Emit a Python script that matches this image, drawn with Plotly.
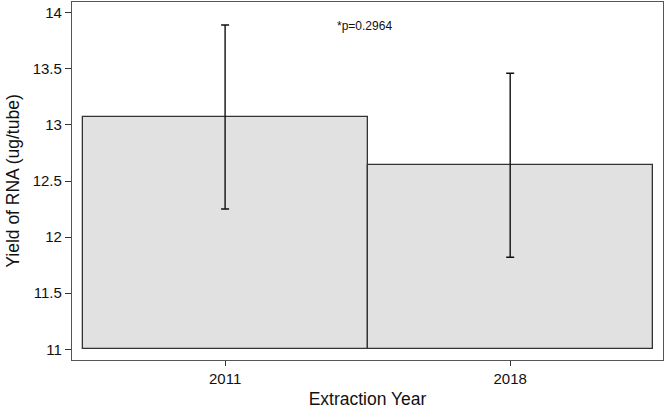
import plotly.graph_objects as go

years = ["2011", "2018"]
yield_means = [13.07, 12.64]
yield_err = [0.82, 0.82]
bar_base = 11
p_label = "*p=0.2964"

FONT = "Liberation Sans, Arial, Helvetica, sans-serif"

fig = go.Figure()
fig.add_trace(go.Bar(
    x=years,
    y=[v - bar_base for v in yield_means],
    base=bar_base,
    width=1,
    marker=dict(color="#e1e1e1", line=dict(color="#333333", width=1.3)),
    hoverinfo="skip",
    showlegend=False,
))
fig.add_trace(go.Scatter(
    x=years,
    y=yield_means,
    mode="markers",
    marker=dict(size=1, opacity=0),
    error_y=dict(type="data", array=yield_err, visible=True,
                 color="#111111", thickness=1.4, width=4),
    hoverinfo="skip",
    showlegend=False,
))
fig.add_annotation(
    x=0.489, y=13.885, xref="x", yref="y",
    text=p_label, showarrow=False,
    font=dict(family=FONT, size=12, color="#111111"),
)

fig.update_layout(
    width=666, height=410,
    margin=dict(l=72, r=3, t=2, b=50),
    paper_bgcolor="white", plot_bgcolor="white",
    bargap=0,
    font=dict(family=FONT, color="#111111"),
)
fig.update_xaxes(
    type="category",
    range=[-0.537, 1.536],
    showline=True, mirror=True, linecolor="#555555", linewidth=1.3,
    ticks="outside", ticklen=5, tickwidth=1, tickcolor="#333333",
    tickfont=dict(size=15, family=FONT, color="#111111"),
    showgrid=False, zeroline=False, automargin=False,
    title=dict(text="Extraction Year", font=dict(size=17.5, family=FONT, color="#111111"), standoff=6),
)
fig.update_yaxes(
    range=[10.905, 14.095],
    tickvals=[11, 11.5, 12, 12.5, 13, 13.5, 14],
    ticktext=["11", "11.5", "12", "12.5", "13", "13.5", "14"],
    showline=True, mirror=True, linecolor="#555555", linewidth=1.3,
    ticks="outside", ticklen=6, tickwidth=1, tickcolor="#333333",
    tickfont=dict(size=15, family=FONT, color="#111111"),
    showgrid=False, zeroline=False, automargin=False,
    title=dict(text="Yield of RNA (ug/tube)", font=dict(size=17.5, family=FONT, color="#111111"), standoff=8),
)

fig.write_html("out.html", config={"displayModeBar": False},
               post_script="document.body.style.margin='0';document.body.style.overflow='hidden';")
